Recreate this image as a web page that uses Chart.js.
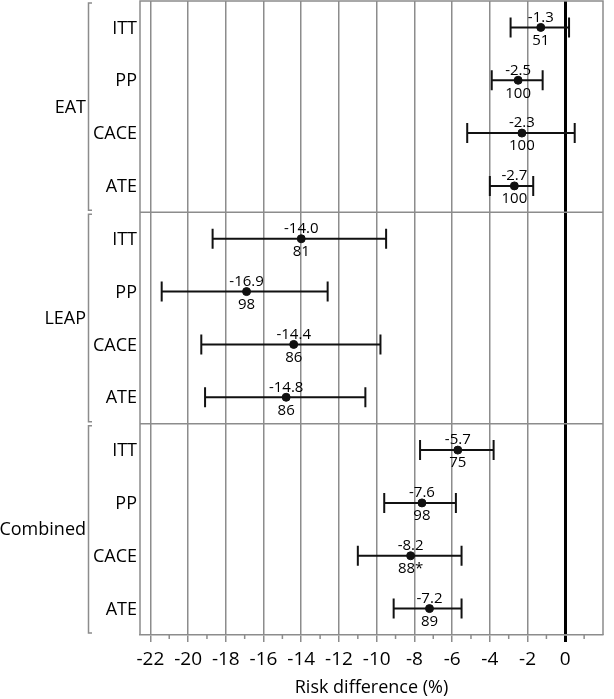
<!DOCTYPE html>
<html>
<head>
<meta charset="utf-8">
<script src="https://cdn.jsdelivr.net/npm/chart.js@4"></script>
<style>
  body { margin: 0; background: #fff; }
  canvas { display: block; }
</style>
</head>
<body>
<canvas id="myChart" width="614" height="699"></canvas>
<script>
const groups = ['EAT', 'LEAP', 'Combined'];
const methods = ['ITT', 'PP', 'CACE', 'ATE'];
const estimates = [-1.3, -2.5, -2.3, -2.7, -14.0, -16.9, -14.4, -14.8, -5.7, -7.6, -8.2, -7.2];
const lower = [-2.9, -3.9, -5.2, -4.0, -18.7, -21.4, -19.3, -19.1, -7.7, -9.6, -11.0, -9.1];
const upper = [0.2, -1.2, 0.5, -1.7, -9.5, -12.6, -9.8, -10.6, -3.8, -5.8, -5.5, -5.5];
const nLabels = ['51', '100', '100', '100', '81', '98', '86', '86', '75', '98', '88*', '89'];
const xTicks = [-22, -20, -18, -16, -14, -12, -10, -8, -6, -4, -2, 0];
const minorTicks = [-21, -19, -17, -15, -13, -11, -9, -7, -5, -3, -1, 1];

const FONT = "'Open Sans', 'Noto Sans', sans-serif";
const GRID = '#8c8c8c';

// row index -> y value (0..11)
let points = estimates.map((v, i) => ({ x: v, y: i }));

const forestPlugin = {
    id: 'forest',
    beforeDatasetsDraw(chart) {
        const { ctx, chartArea, scales } = chart;
        const x = scales.x, y = scales.y;
        ctx.save();
        ctx.strokeStyle = GRID;
        ctx.lineWidth = 1.5;
        // frame (bottom is drawn by axis border)
        ctx.beginPath();
        ctx.moveTo(chartArea.left, chartArea.bottom);
        ctx.lineTo(chartArea.left, chartArea.top);
        ctx.lineTo(chartArea.right, chartArea.top);
        ctx.lineTo(chartArea.right, chartArea.bottom);
        ctx.stroke();
        // group separators
        [3.5, 7.5].forEach((v) => {
            const py = y.getPixelForValue(v);
            ctx.beginPath();
            ctx.moveTo(chartArea.left, py);
            ctx.lineTo(chartArea.right, py);
            ctx.stroke();
        });
        // minor ticks below the axis
        minorTicks.forEach((v) => {
            const px = x.getPixelForValue(v);
            if (px > chartArea.right) return;
            ctx.beginPath();
            ctx.moveTo(px, chartArea.bottom);
            ctx.lineTo(px, chartArea.bottom + 4);
            ctx.stroke();
        });
        ctx.restore();
    },
    afterDatasetsDraw(chart) {
        const { ctx, chartArea, scales } = chart;
        const x = scales.x, y = scales.y;
        ctx.save();
        // error bars
        ctx.strokeStyle = '#111';
        ctx.lineWidth = 2;
        estimates.forEach((v, i) => {
            const py = y.getPixelForValue(i);
            const x1 = x.getPixelForValue(lower[i]);
            const x2 = x.getPixelForValue(upper[i]);
            ctx.beginPath();
            ctx.moveTo(x1, py);
            ctx.lineTo(x2, py);
            ctx.moveTo(x1, py - 10);
            ctx.lineTo(x1, py + 10);
            ctx.moveTo(x2, py - 10);
            ctx.lineTo(x2, py + 10);
            ctx.stroke();
        });
        // value labels
        ctx.fillStyle = '#000';
        ctx.font = '15px ' + FONT;
        ctx.textAlign = 'center';
        ctx.textBaseline = 'middle';
        estimates.forEach((v, i) => {
            const px = x.getPixelForValue(v);
            const py = y.getPixelForValue(i);
            ctx.fillText(v.toFixed(1), px, py - 10);
            ctx.fillText(nLabels[i], px, py + 13);
        });
        // row labels
        ctx.font = '18px ' + FONT;
        ctx.textAlign = 'right';
        estimates.forEach((v, i) => {
            ctx.fillText(methods[i % 4], chartArea.left - 3, y.getPixelForValue(i) + 1);
        });
        // group labels and brackets
        groups.forEach((g, k) => {
            const top = y.getPixelForValue(k * 4 - 0.5);
            const bot = y.getPixelForValue(k * 4 + 3.5);
            ctx.fillStyle = '#000';
            ctx.fillText(g, 86, (top + bot) / 2 + 1);
            ctx.strokeStyle = GRID;
            ctx.lineWidth = 1.5;
            ctx.beginPath();
            ctx.moveTo(92, top + 2);
            ctx.lineTo(88.5, top + 2);
            ctx.lineTo(88.5, bot - 2);
            ctx.lineTo(92, bot - 2);
            ctx.stroke();
        });
        ctx.restore();
    }
};

new Chart(document.getElementById('myChart'), {
    type: 'scatter',
    data: {
        datasets: [{
            label: 'Risk difference',
            data: points,
            backgroundColor: '#111',
            borderColor: '#111',
            pointRadius: 4,
            pointHoverRadius: 4
        }]
    },
    options: {
        responsive: false,
        animation: false,
        devicePixelRatio: 1,
        layout: { autoPadding: false, padding: { left: 140, right: 11, top: 1, bottom: 0 } },
        plugins: {
            legend: { display: false },
            tooltip: { enabled: false }
        },
        scales: {
            x: {
                type: 'linear',
                min: -22.55,
                max: 2,
                afterBuildTicks: (scale) => {
                    scale.ticks = xTicks.map((v) => ({ value: v }));
                },
                afterFit: (scale) => {
                    scale.height = 64;
                },
                grid: {
                    color: (c) => (c.tick && c.tick.value === 0 ? '#000' : GRID),
                    lineWidth: (c) => (c.tick && c.tick.value === 0 ? 3 : 1.5),
                    tickLength: 7
                },
                border: { display: true, color: GRID, width: 1.5 },
                ticks: {
                    autoSkip: false,
                    maxRotation: 0,
                    padding: 6,
                    color: '#000',
                    font: { family: FONT, size: 19 }
                },
                title: {
                    display: true,
                    text: 'Risk difference (%)',
                    color: '#000',
                    font: { family: FONT, size: 18 },
                    padding: { top: 0, bottom: 0 }
                }
            },
            y: {
                type: 'linear',
                display: false,
                reverse: true,
                min: -0.5,
                max: 11.5
            }
        }
    },
    plugins: [forestPlugin]
});
</script>
</body>
</html>
